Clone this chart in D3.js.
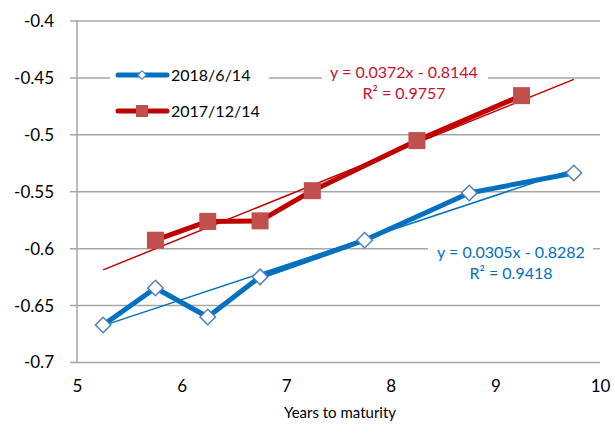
<!DOCTYPE html>
<html>
<head>
<meta charset="utf-8">
<script src="https://cdnjs.cloudflare.com/ajax/libs/d3/7.8.5/d3.min.js"></script>
<style>
body{margin:0;background:#fff;}
svg{display:block;font-family:Lato,"Open Sans",sans-serif;}
</style>
</head>
<body>
<div id="graphHolder"></div>
<script>
// series data
var blueName = "2018/6/14";
var blueX = [5.25, 5.75, 6.25, 6.75, 7.75, 8.75, 9.75];
var blueY = [-0.6675, -0.635, -0.6605, -0.6252, -0.593, -0.5515, -0.534];
var redName = "2017/12/14";
var redX = [5.75, 6.25, 6.75, 7.25, 8.25, 9.25];
var redY = [-0.593, -0.5765, -0.576, -0.5495, -0.5055, -0.466];
// trendlines (slope, intercept, r2) and their span
var blueFit = [0.0305, -0.8282, 0.9418];
var redFit = [0.0372, -0.8144, 0.9757];
var fitRange = [5.25, 9.75];
var xTicks = [5, 6, 7, 8, 9, 10];
var yTicks = [-0.7, -0.65, -0.6, -0.55, -0.5, -0.45, -0.4];

var W = 614, H = 426;
var plotLeft = 77, plotRight = 600, plotTop = 20.5, plotBottom = 362;

var svg = d3.select("#graphHolder").append("svg")
	.attr("width", W).attr("height", H);

var x = d3.scaleLinear().domain([5, 10]).range([plotLeft, plotRight]);
var y = d3.scaleLinear().domain([-0.7, -0.4]).range([plotBottom, plotTop]);

var grid = "#a6a6a6";

// gridlines + y ticks
var yAxis = d3.axisLeft(y).tickValues(yTicks).tickSize(0).tickSizeOuter(0);
var gy = svg.append("g").attr("transform", "translate(" + (plotLeft - 7) + ",0)").call(yAxis);
gy.select(".domain").remove();
gy.selectAll(".tick line").attr("stroke", grid).attr("stroke-width", 1.5)
	.attr("x1", 0).attr("x2", plotRight - plotLeft + 7);
gy.selectAll(".tick text").attr("x", -16).attr("dy", "0.35em")
	.style("font-size", "17px").style("font-family", "Lato").attr("fill", "#000")
	.text(function(d){ return String(+d.toFixed(2)); });

// y axis line
svg.append("line").attr("x1", plotLeft).attr("x2", plotLeft).attr("y1", plotTop).attr("y2", plotBottom + 1)
	.attr("stroke", grid).attr("stroke-width", 1.5);

// x axis
var xAxis = d3.axisBottom(x).tickValues(xTicks).tickSize(0).tickFormat(d3.format("d"));
var gx = svg.append("g").attr("transform", "translate(0," + plotBottom + ")").call(xAxis);
gx.select(".domain").remove();
gx.selectAll(".tick text").attr("y", 30).attr("dy", 0)
	.style("font-size", "17px").style("font-family", "Lato").attr("fill", "#000");

svg.append("text").attr("x", 340).attr("y", 418).attr("text-anchor", "middle")
	.style("font-size", "15px").attr("fill", "#000").text("Years to maturity");

var blueCol = "#0070c0", redCol = "#c00000";
var line = d3.line().x(function(d){ return x(d[0]); }).y(function(d){ return y(d[1]); });
var bluePts = d3.zip(blueX, blueY);
var redPts = d3.zip(redX, redY);

// series lines
svg.append("path").attr("d", line(bluePts)).attr("fill", "none")
	.attr("stroke", blueCol).attr("stroke-width", 5).attr("stroke-linejoin", "round");
svg.append("path").attr("d", line(redPts)).attr("fill", "none")
	.attr("stroke", redCol).attr("stroke-width", 5).attr("stroke-linejoin", "round");

// trendlines
function fitLine(f){
	return fitRange.map(function(v){ return [v, f[0] * v + f[1]]; });
}
svg.append("path").attr("d", line(fitLine(blueFit))).attr("fill", "none")
	.attr("stroke", blueCol).attr("stroke-width", 1.5);
svg.append("path").attr("d", line(fitLine(redFit))).attr("fill", "none")
	.attr("stroke", redCol).attr("stroke-width", 1.5);

// markers
var diamond = d3.symbol().type(d3.symbolSquare).size(120);
svg.selectAll(".bm").data(bluePts).enter().append("path").attr("class", "bm")
	.attr("d", diamond)
	.attr("transform", function(d){ return "translate(" + x(d[0]) + "," + y(d[1]) + ") rotate(45)"; })
	.attr("fill", "#fff").attr("stroke", "#4f81bd").attr("stroke-width", 1.5);
svg.selectAll(".rm").data(redPts).enter().append("rect").attr("class", "rm")
	.attr("x", function(d){ return x(d[0]) - 8.5; })
	.attr("y", function(d){ return y(d[1]) - 8.5; })
	.attr("width", 17).attr("height", 17)
	.attr("fill", "#c0504d");

// legend
svg.append("rect").attr("x", 110).attr("y", 60).attr("width", 159).attr("height", 66).attr("fill", "#fff");
var legend = [[blueName, blueCol, "d"], [redName, redCol, "s"]];
legend.forEach(function(l, i){
	var ly = 75 + i * 36;
	svg.append("line").attr("x1", 118).attr("x2", 167).attr("y1", ly).attr("y2", ly)
		.attr("stroke", l[1]).attr("stroke-width", 5).attr("stroke-linecap", "round");
	if (l[2] == "d") {
		svg.append("path").attr("d", d3.symbol().type(d3.symbolSquare).size(36))
			.attr("transform", "translate(142," + ly + ") rotate(45)")
			.attr("fill", "#fff").attr("stroke", "#4f81bd").attr("stroke-width", 1.2);
	} else {
		svg.append("rect").attr("x", 136).attr("y", ly - 6).attr("width", 12).attr("height", 12)
			.attr("fill", "#c0504d");
	}
	svg.append("text").attr("x", 171).attr("y", ly).attr("dy", "0.35em")
		.style("font-size", "16px").attr("fill", "#000").text(l[0]);
});

// equation labels
function eqLabel(f, cx, cy, col, bx, bw){
	svg.append("rect").attr("x", bx).attr("y", cy - 12).attr("width", bw).attr("height", 44).attr("fill", "#fff");
	var sign = f[1] < 0 ? " - " : " + ";
	svg.append("text").attr("x", cx).attr("y", cy).attr("dy", "0.35em").attr("text-anchor", "middle")
		.style("font-size", "16px").attr("fill", col)
		.text("y = " + f[0].toFixed(4) + "x" + sign + Math.abs(f[1]).toFixed(4));
	svg.append("text").attr("x", cx).attr("y", cy + 21).attr("dy", "0.35em").attr("text-anchor", "middle")
		.style("font-size", "16px").attr("fill", col)
		.text("R² = " + f[2].toFixed(4));
}
eqLabel(redFit, 404, 72, "#c8102e", 322, 166);
eqLabel(blueFit, 511, 252, blueCol, 428, 165);
</script>
</body>
</html>
